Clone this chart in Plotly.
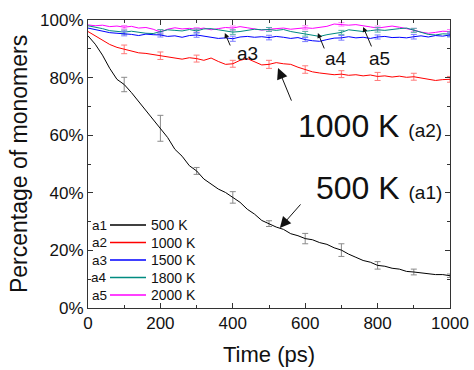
import plotly.graph_objects as go

# ---------------- data ----------------
time_ps = list(range(0, 1001, 20))

a1_500K = [94.5, 91.6, 87.8, 83.2, 79.4, 77.6, 74.8, 71.7, 68.3, 65.6, 62.4,
           59.2, 55.1, 52.7, 49.4, 47.6, 44.8, 43.2, 41.3, 40.1, 38.4,
           36.7, 34.3, 32.6, 30.4, 29.3, 28.1, 27.3, 25.8, 25.1, 24.1,
           23.7, 22.7, 22.1, 20.9, 20.1, 18.7, 17.6, 16.5, 15.9, 14.8,
           14.5, 13.8, 13.5, 12.7, 12.5, 12.2, 12.1, 11.6, 11.6, 11.2]

a2_1000K = [96.0, 94.5, 93.0, 91.5, 90.5, 89.8, 89.3, 88.6, 88.4, 88.0, 87.6,
            87.0, 86.8, 86.4, 86.9, 86.6, 86.0, 86.8, 85.6, 84.6, 84.8,
            86.0, 86.6, 85.6, 84.4, 84.6, 85.2, 84.8, 84.6, 83.6, 82.8,
            82.0, 81.6, 81.4, 81.0, 81.2, 80.8, 81.0, 80.6, 80.9, 80.4,
            80.6, 80.2, 80.5, 80.1, 80.3, 79.8, 79.4, 79.0, 79.3, 79.4]

a3_1500K = [97.2, 96.6, 96.2, 95.6, 95.4, 95.3, 95.0, 94.6, 95.1, 94.9, 94.8,
            94.3, 94.5, 94.0, 94.6, 94.8, 94.4, 94.0, 93.6, 93.8, 93.5,
            94.1, 94.3, 94.0, 94.2, 93.9, 94.3, 94.0, 93.6, 93.9, 93.2,
            92.8, 92.6, 93.2, 93.7, 93.8, 94.2, 93.8, 94.0, 93.6, 94.1,
            94.3, 93.9, 94.0, 93.8, 94.2, 94.5, 94.1, 94.6, 94.4, 94.8]

a4_1800K = [98.0, 97.6, 97.0, 96.3, 96.0, 95.8, 96.1, 95.7, 95.4, 95.3, 95.9,
            96.6, 96.4, 96.2, 96.7, 96.2, 96.9, 97.0, 96.6, 96.2, 95.8,
            96.0, 96.5, 96.8, 96.6, 96.7, 96.4, 96.7, 96.0, 95.6, 95.2,
            94.6, 94.3, 94.9, 95.4, 95.7, 96.6, 96.4, 96.0, 96.3, 96.6,
            96.4, 96.8, 97.0, 97.2, 96.4, 95.6, 95.0, 94.8, 95.2, 95.1]

a5_2000K = [98.3, 98.0, 98.2, 97.7, 97.9, 97.5, 97.8, 97.2, 97.4, 96.8, 95.8,
            96.8, 97.3, 96.9, 97.1, 96.8, 97.2, 96.6, 97.0, 97.4, 97.2,
            97.7, 97.3, 96.9, 96.5, 96.8, 97.0, 97.2, 96.8, 97.0, 97.3,
            97.1, 97.5, 97.8, 98.6, 98.5, 98.2, 98.4, 97.9, 97.6, 97.2,
            97.6, 97.9, 97.5, 97.1, 96.5, 95.8, 95.4, 95.7, 96.1, 96.0]

# error bars every 100 ps
err_time = [100, 200, 300, 400, 500, 600, 700, 800, 900, 1000]
a1_err = [2.5, 4.5, 1.2, 2.0, 1.0, 1.8, 2.2, 1.3, 1.0, 0.6]
a2_err = [1.5, 1.3, 1.2, 1.2, 1.4, 1.3, 1.2, 1.4, 1.2, 1.0]
a3_err = [0.8, 0.7, 0.8, 0.9, 0.8, 0.7, 0.8, 0.7, 0.8, 0.7]
a4_err = [0.7, 0.8, 0.7, 0.8, 0.7, 0.8, 0.7, 0.8, 0.7, 0.8]
a5_err = [0.6, 0.7, 0.6, 0.7, 0.6, 0.7, 0.6, 0.7, 0.6, 0.7]

labels = ["a1", "a2", "a3", "a4", "a5"]
temps = ["500 K", "1000 K", "1500 K", "1800 K", "2000 K"]
colors = ["#000000", "#ff0000", "#0000ff", "#008b80", "#ff00ff"]
err_colors = ["#8a8a8a", "#ff7b7b", "#7b7bff", "#5fb3aa", "#ff80ff"]
series = [a1_500K, a2_1000K, a3_1500K, a4_1800K, a5_2000K]
errors = [a1_err, a2_err, a3_err, a4_err, a5_err]

FONT = "Arial, Liberation Sans, sans-serif"

fig = go.Figure()

for i in [4, 3, 2, 1, 0]:
    vals = series[i]
    idx = [time_ps.index(t) for t in err_time]
    fig.add_trace(go.Scatter(
        x=err_time, y=[vals[k] for k in idx], mode="markers",
        marker=dict(size=0.1, color=err_colors[i], opacity=0),
        error_y=dict(type="data", array=errors[i], color=err_colors[i],
                     thickness=1, width=3),
        showlegend=False, hoverinfo="skip"))
    fig.add_trace(go.Scatter(
        x=time_ps, y=vals, mode="lines", name=temps[i],
        line=dict(color=colors[i], width=1), showlegend=False))

# ---------------- manual legend ----------------
L, R, T, B = 88, 24, 20, 62
W, H = 474 - L - R, 370 - T - B


def px(xp):
    return (xp - L) / W


def py(yp):
    return (T + H - yp) / H


shapes = []
annotations = []
for i in range(5):
    yrow = 225 + 17.5 * i
    shapes.append(dict(type="line", xref="paper", yref="paper",
                       x0=px(110), x1=px(146), y0=py(yrow), y1=py(yrow),
                       line=dict(color=colors[i], width=1.5)))
    annotations.append(dict(xref="paper", yref="paper", x=px(109), y=py(yrow),
                            text=labels[i], showarrow=False, xanchor="right",
                            yanchor="middle", font=dict(size=13.5, color="#111")))
    annotations.append(dict(xref="paper", yref="paper", x=px(149), y=py(yrow),
                            text=temps[i], showarrow=False, xanchor="left",
                            yanchor="middle", font=dict(size=14, color="#111")))

# big labels
annotations.append(dict(xref="paper", yref="paper", x=px(444), y=py(126),
                        text="1000 K <span style='font-size:19px'>(a2)</span>",
                        showarrow=False, xanchor="right", yanchor="middle",
                        font=dict(size=32, color="#111")))
annotations.append(dict(xref="paper", yref="paper", x=px(444), y=py(188),
                        text="500 K <span style='font-size:19px'>(a1)</span>",
                        showarrow=False, xanchor="right", yanchor="middle",
                        font=dict(size=32, color="#111")))
for txt, cx, cy in [("a3", 247, 53), ("a4", 336, 59), ("a5", 379, 59)]:
    annotations.append(dict(xref="paper", yref="paper", x=px(cx), y=py(cy),
                            text=txt, showarrow=False, xanchor="center",
                            yanchor="middle", font=dict(size=19, color="#111")))

# arrows (head in data coords, tail offset in pixels)
arrows = [
    (525, 83.3, 14, 34, 2.2),
    (530, 27.8, 22, -25, 2.2),
    (378, 95.5, 6, 14, 1.0),
    (635, 95.5, 7, 17, 1.0),
    (760, 97.6, 9, 21, 1.0),
]
for hx, hy, ax, ay, size in arrows:
    annotations.append(dict(x=hx, y=hy, xref="x", yref="y", ax=ax, ay=ay,
                            axref="pixel", ayref="pixel", text="",
                            showarrow=True, arrowhead=2, arrowsize=size,
                            arrowwidth=1, arrowcolor="#111"))

axis_common = dict(
    showline=True, linecolor="#333", linewidth=1, mirror="ticks",
    ticks="inside", ticklen=5, tickcolor="#333", tickwidth=1,
    showgrid=False, zeroline=False, automargin=False,
    tickfont=dict(size=17, color="#111", family=FONT),
)

fig.update_layout(
    width=474, height=370,
    margin=dict(l=L, r=R, t=T, b=B),
    paper_bgcolor="white", plot_bgcolor="white",
    font=dict(family=FONT, color="#111"),
    shapes=shapes, annotations=annotations,
    xaxis=dict(range=[0, 1000], tickvals=[0, 200, 400, 600, 800, 1000],
               minor=dict(tickvals=[100, 300, 500, 700, 900], ticks="inside",
                          ticklen=3, tickcolor="#333"),
               title=dict(text="Time (ps)", font=dict(size=22), standoff=14),
               **axis_common),
    yaxis=dict(range=[0, 100], tickvals=[0, 20, 40, 60, 80, 100],
               ticktext=["0%", "20%", "40%", "60%", "80%", "100%"],
               minor=dict(tickvals=[10, 30, 50, 70, 90], ticks="inside",
                          ticklen=3, tickcolor="#333"),
               title=dict(text="Percentage of monomers", font=dict(size=23),
                          standoff=6),
               **axis_common),
)

fig.write_html("out.html")
